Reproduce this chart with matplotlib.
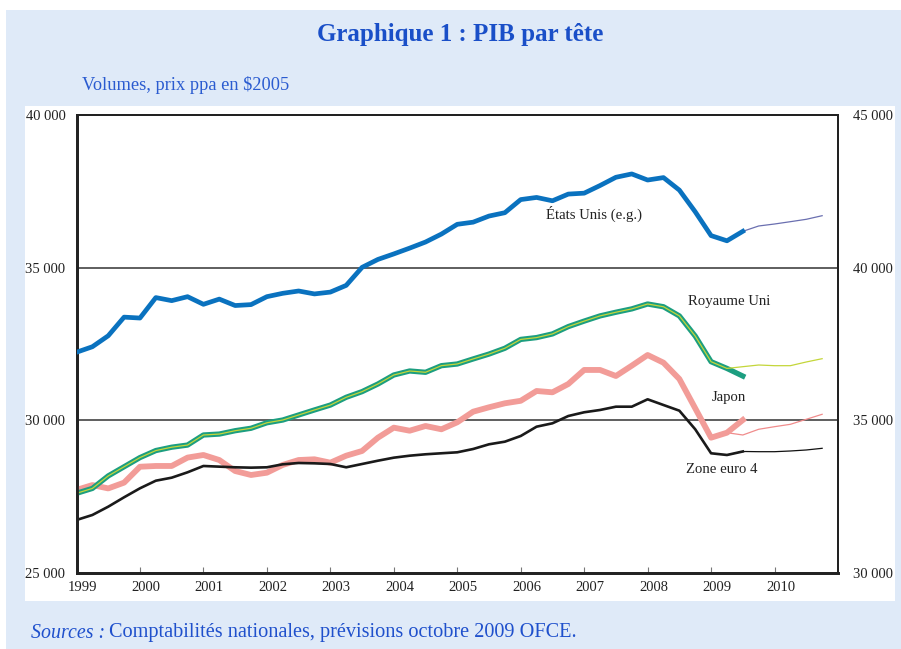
import numpy as np
import pandas as pd
import matplotlib
matplotlib.use("Agg")
import matplotlib.pyplot as plt
from matplotlib.patches import Rectangle
from matplotlib.transforms import ScaledTranslation

# ---------------- data ----------------
periods = pd.period_range("1999Q1", "2010Q4", freq="Q")
n_hist = 43          # 1999Q1 .. 2009Q3 observed
fc_start = 41        # forecasts drawn from 2009Q2

# Etats-Unis (right axis)
us = [37230, 37410, 37770, 38380, 38350, 39020, 38920, 39050, 38800, 38970,
      38760, 38790, 39050, 39160, 39236, 39140, 39200, 39420, 40010, 40270,
      40450, 40640, 40840, 41100, 41420, 41490, 41690, 41800, 42230, 42300,
      42190, 42410, 42440, 42690, 42960, 43070, 42870, 42950, 42540, 41830,
      41050, 40880, 41190]
us_fc = [40880, 41190, 41365, 41430, 41506, 41584, 41702]

# Royaume Uni (left axis)
uk = [27610, 27770, 28180, 28480, 28780, 29010, 29120, 29190, 29520, 29550,
      29660, 29740, 29920, 30010, 30175, 30340, 30500, 30755, 30940, 31190,
      31485, 31616, 31573, 31790, 31845, 32010, 32170, 32360, 32650, 32710,
      32830, 33070, 33250, 33420, 33540, 33650, 33810, 33720, 33420, 32760,
      31920, 31700, 31450]
uk_fc = [31700, 31757, 31812, 31790, 31790, 31911, 32019]

# Japon (left axis)
jp = [27720, 27880, 27770, 27960, 28480, 28505, 28505, 28780, 28865, 28700,
      28340, 28210, 28285, 28540, 28700, 28724, 28613, 28842, 28996, 29432,
      29760, 29660, 29815, 29707, 29936, 30283, 30427, 30558, 30640, 30961,
      30918, 31190, 31650, 31650, 31452, 31790, 32140, 31888, 31354, 30394,
      29432, 29595, 30011]
jp_fc = [29595, 29520, 29707, 29792, 29870, 30034, 30198]

# Zone euro 4 (left axis)
ez = [26736, 26900, 27172, 27480, 27774, 28023, 28122, 28298, 28505, 28483,
      28462, 28450, 28462, 28560, 28603, 28592, 28570, 28462, 28570, 28678,
      28777, 28842, 28888, 28921, 28953, 29061, 29215, 29301, 29487, 29792,
      29903, 30142, 30264, 30339, 30447, 30447, 30689, 30502, 30316, 29707,
      28921, 28865, 28980]
ez_fc = [28865, 28980, 28973, 28973, 28996, 29029, 29084]

years = list(range(1999, 2011))
left_ticks = [25000, 30000, 35000, 40000]
right_ticks = [30000, 35000, 40000, 45000]

title = "Graphique 1 : PIB par tête"
subtitle = "Volumes, prix ppa en $2005"
labels = {"us": "États Unis (e.g.)", "uk": "Royaume Uni", "jp": "Japon", "ez": "Zone euro 4"}

# ---------------- figure ----------------
W, H = 901, 649
fig = plt.figure(figsize=(W / 100, H / 100), dpi=100)
fig.patch.set_facecolor("white")
SERIF = ["Liberation Serif", "DejaVu Serif"]
plt.rcParams["font.family"] = SERIF

def px_rect(x0, y0, x1, y1, color, z):
    fig.patches.append(Rectangle((x0 / W, 1 - y1 / H), (x1 - x0) / W, (y1 - y0) / H,
                                 transform=fig.transFigure, facecolor=color,
                                 edgecolor="none", zorder=z))

px_rect(6, 10, 901, 649, "#dfeaf8", -10)
px_rect(25, 106, 895, 601, "white", -9)

ax_l, ax_r, ax_t, ax_b = 76.5, 838, 115, 573
ax = fig.add_axes([ax_l / W, 1 - ax_b / H, (ax_r - ax_l) / W, (ax_b - ax_t) / H])
ax.set_facecolor("white")
ax2 = ax.twinx()

x = np.array([p.year + (p.quarter - 1) / 4 for p in periods])
xh = x[:n_hist]
xf = x[fc_start:]

# left-axis series
ax.plot(xf, jp_fc, color="#f08c8c", lw=0.9, zorder=3)
ax.plot(xh, jp, color="#f29c98", lw=4.2, zorder=4)
ax.plot(xf, ez_fc, color="#111111", lw=0.9, zorder=3)
ax.plot(xh, ez, color="#1a1a1a", lw=1.9, zorder=5)
ax.plot(xh, uk, color="#1c9e80", lw=3.8, zorder=6)
uk_line = list(uk[:fc_start]) + list(uk_fc)
ax.plot(x, uk_line, color="#c4d63a", lw=0.9, zorder=7)

# right-axis series
ax2.plot(xf, us_fc, color="#6a6fb0", lw=0.9, zorder=3)
ax2.plot(xh, us, color="#0a72bf", lw=3.4, zorder=4)

ax.set_xlim(1999, 2011)
ax.set_ylim(25000, 40000)
ax2.set_ylim(30000, 45000)

for y in [30000, 35000]:
    ax.axhline(y, color="#333333", lw=1.1, zorder=1)

ax.set_yticks(left_ticks)
ax.set_yticklabels([f"{v:,}".replace(",", " ") for v in left_ticks])
ax2.set_yticks(right_ticks)
ax2.set_yticklabels([f"{v:,}".replace(",", " ") for v in right_ticks])
ax.tick_params(axis="y", length=0, pad=8, labelsize=10.5, labelcolor="#222222")
ax2.tick_params(axis="y", length=0, pad=11, labelsize=10.5, labelcolor="#222222")

ax.set_xticks(years)
ax.set_xticklabels([str(y) for y in years])
ax.tick_params(axis="x", direction="in", length=4, width=0.8, color="#777777",
               pad=6, labelsize=10.5, labelcolor="#222222")
for lab in ax.get_xticklabels():
    lab.set_transform(lab.get_transform() + ScaledTranslation(6 / 100, 0, fig.dpi_scale_trans))
ax.xaxis.get_major_ticks()[0].tick1line.set_visible(False)

for a in (ax, ax2):
    for s in a.spines.values():
        s.set_color("#222222")
        s.set_linewidth(1.4)
    a.spines["left"].set_linewidth(2.0)
    a.spines["bottom"].set_linewidth(2.0)

# series labels
lab_kw = dict(fontsize=10.6, color="#222222", ha="center", va="center", zorder=10)
ax.text(2007.15, 36758, labels["us"], **lab_kw)
ax.text(2009.29, 33876, labels["uk"], **lab_kw)
ax.text(2009.28, 30742, labels["jp"], **lab_kw)
ax.text(2009.17, 28374, labels["ez"], **lab_kw)

# titles
fig.text(460 / W, 1 - 34 / H, title, ha="center", va="center", fontsize=18,
         fontweight="bold", color="#1a4fc8")
fig.text(82 / W, 1 - 85 / H, subtitle, ha="left", va="center", fontsize=13.2,
         color="#2a5bd0")
t1 = fig.text(31 / W, 1 - 633 / H, "Sources :", ha="left", va="center", fontsize=14.3,
              style="italic", color="#1f50cc")
fig.canvas.draw()
bb = t1.get_window_extent()
fig.text((bb.x1 + 4) / W, 1 - 633 / H,
         "Comptabilités nationales, prévisions octobre 2009 OFCE.",
         ha="left", va="center", fontsize=14.6, color="#1f50cc")

fig.savefig("out.png", dpi=100, facecolor=fig.get_facecolor())
